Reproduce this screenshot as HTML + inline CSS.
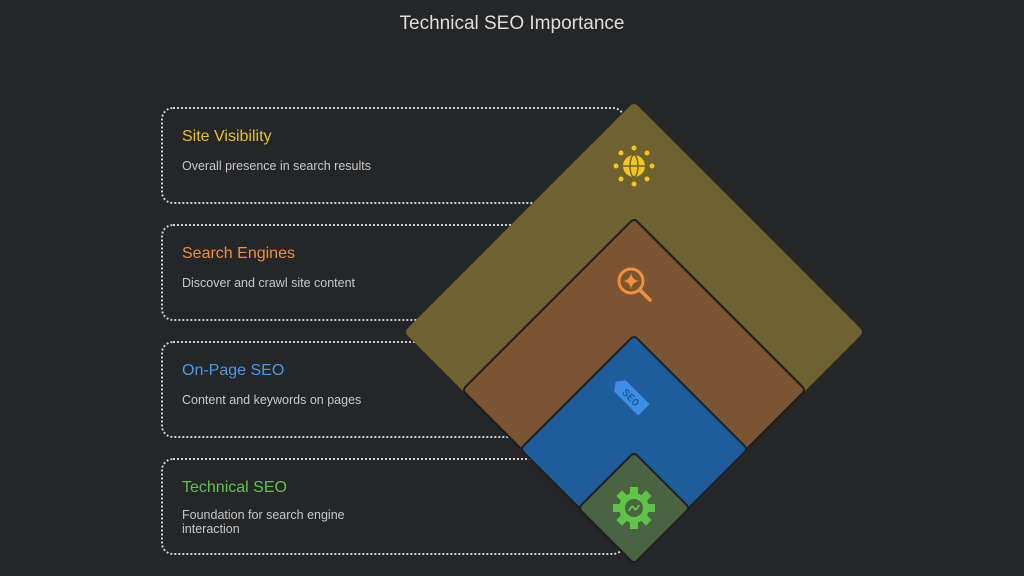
<!DOCTYPE html>
<html><head><style>
body{margin:0;width:1024px;height:576px;background:#252628;overflow:hidden;font-family:"Liberation Sans",sans-serif;position:relative}
.t{position:absolute;top:13px;left:0;width:1024px;text-align:center;color:#dedede;font-size:19px}
.b{position:absolute;left:161px;width:464px;height:97px;border:2px dotted #cfcfcf;border-radius:12px;box-sizing:border-box}
.h{position:absolute;left:182px;font-size:16px}
.d{position:absolute;left:182px;font-size:12.5px;color:#c8c8c8;line-height:14px}
svg{position:absolute;left:0;top:0}
</style></head><body>
<div class="t">Technical SEO Importance</div>
<div class="b" style="top:107px"></div>
<div class="b" style="top:224px"></div>
<div class="b" style="top:341px"></div>
<div class="b" style="top:458px"></div>
<div class="h" style="top:128px;color:#e6c229">Site Visibility</div>
<div class="d" style="top:159px">Overall presence in search results</div>
<div class="h" style="top:245px;color:#f0903a">Search Engines</div>
<div class="d" style="top:276px">Discover and crawl site content</div>
<div class="h" style="top:362px;color:#4a9be8">On-Page SEO</div>
<div class="d" style="top:393px">Content and keywords on pages</div>
<div class="h" style="top:479px;color:#5fc34a">Technical SEO</div>
<div class="d" style="top:508px">Foundation for search engine<br>interaction</div>
<svg width="1024" height="576">
<g stroke-linejoin="round">
<polygon points="634,109 857,332 634,555 411,332" fill="#6e6230" stroke="#6e6230" stroke-width="10"/>
<polygon points="634,224 800,390 634,556 468,390" fill="#1e1e1e" stroke="#1e1e1e" stroke-width="10"/>
<polygon points="634,224 800,390 634,556 468,390" fill="#7b5533" stroke="#7b5533" stroke-width="6"/>
<polygon points="634,341 742,449 634,557 526,449" fill="#1e1e1e" stroke="#1e1e1e" stroke-width="10"/>
<polygon points="634,341 742,449 634,557 526,449" fill="#1f5c9c" stroke="#1f5c9c" stroke-width="6"/>
<polygon points="634,458 684,508 634,558 584,508" fill="#1e1e1e" stroke="#1e1e1e" stroke-width="10"/>
<polygon points="634,458 684,508 634,558 584,508" fill="#4a6340" stroke="#4a6340" stroke-width="6"/>
</g>
<g fill="#f5c518">
<circle cx="634" cy="166" r="11"/>
<circle cx="634" cy="148" r="2.5"/><circle cx="634" cy="184" r="2.5"/>
<circle cx="616" cy="166" r="2.5"/><circle cx="652" cy="166" r="2.5"/>
<circle cx="621" cy="153" r="2.5"/><circle cx="647" cy="153" r="2.5"/>
<circle cx="621" cy="179" r="2.5"/><circle cx="647" cy="179" r="2.5"/>
</g>
<g stroke="#6e6230" stroke-width="1.5" fill="none"><line x1="623" y1="166" x2="645" y2="166"/><ellipse cx="634" cy="166" rx="4" ry="11"/></g>
<circle cx="631" cy="281" r="12" fill="none" stroke="#f0903a" stroke-width="3"/>
<line x1="640" y1="290" x2="650" y2="300" stroke="#f0903a" stroke-width="3.5" stroke-linecap="round"/>
<path d="M631,273 Q632,280 639,281 Q632,282 631,289 Q630,282 623,281 Q630,280 631,273Z" fill="#f0903a"/>
<g transform="translate(634,400) rotate(45)">
<path d="M-20,-8 L14,-8 L14,8 L-20,8 L-26,0Z" fill="#3d8fe6"/>
<text x="-4" y="4" font-size="11" font-weight="bold" fill="#1f5c9c" text-anchor="middle" font-family="Liberation Mono">SEO</text>
</g>
<g transform="translate(634,508)">
<circle r="15" fill="#5fc34a"/>
<g fill="#5fc34a"><rect x="-4" y="-21" width="8" height="8"/><rect x="-4" y="13" width="8" height="8"/><rect x="-21" y="-4" width="8" height="8"/><rect x="13" y="-4" width="8" height="8"/>
<rect x="-4" y="-21" width="8" height="8" transform="rotate(45)"/><rect x="-4" y="13" width="8" height="8" transform="rotate(45)"/><rect x="-21" y="-4" width="8" height="8" transform="rotate(45)"/><rect x="13" y="-4" width="8" height="8" transform="rotate(45)"/></g>
<circle r="9" fill="#4a6340"/>
<path d="M-5,3 Q-2,-4 0,0 Q2,4 5,-3" stroke="#5fc34a" stroke-width="2" fill="none"/>
</g>
</svg>
</body></html>
